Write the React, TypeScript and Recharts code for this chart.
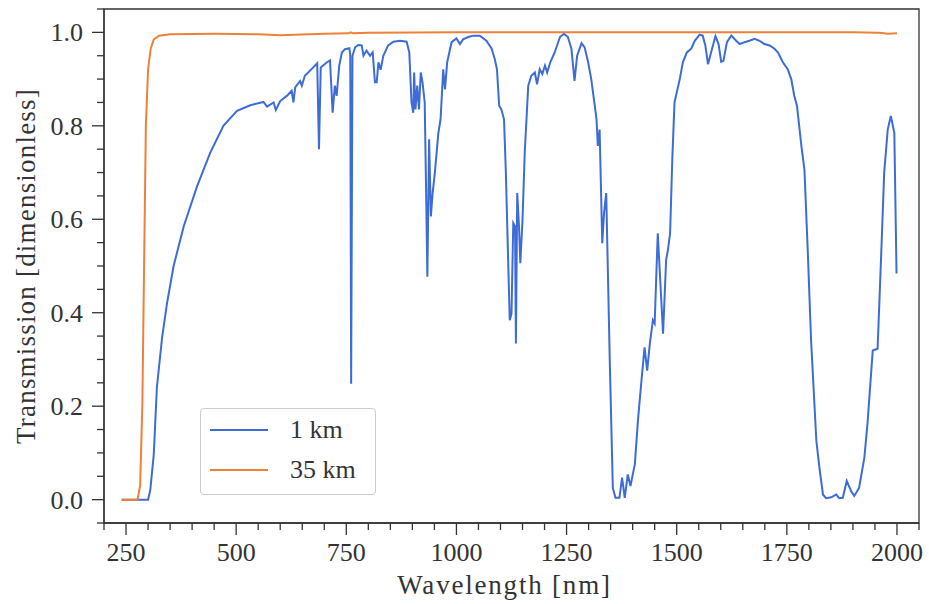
import React from 'react';
import { LineChart, Line, XAxis, YAxis, Legend, ReferenceArea } from 'recharts';

// wavelength [nm] / transmission
const WL_1KM = [
  240, 300, 305, 313, 320, 332, 343, 358, 381, 411, 441, 471, 502, 532, 562, 570, 585, 590, 600, 615,
  626, 630, 634, 645, 649, 656, 675, 684, 688, 692, 706, 713, 719, 724, 728, 734, 740, 747, 757, 759,
  761, 764, 770, 777, 785, 789, 796, 804, 810, 815, 819, 823, 828, 834, 845, 857, 872, 887, 893, 898,
  902, 904, 907, 911, 915, 919, 923, 928, 931, 934, 938, 942, 946, 951, 959, 964, 970, 974, 979, 989,
  1000, 1008, 1015, 1027, 1038, 1053, 1068, 1080, 1087, 1092, 1097, 1102, 1108, 1112, 1117, 1121, 1125, 1129, 1133, 1135,
  1138, 1142, 1145, 1150, 1155, 1163, 1170, 1178, 1183, 1189, 1195, 1201, 1206, 1213, 1223, 1235, 1244, 1253, 1261, 1268,
  1274, 1284, 1291, 1299, 1306, 1314, 1318, 1321, 1325, 1331, 1335, 1340, 1348, 1355, 1361, 1370, 1376, 1382, 1389, 1395,
  1405, 1412, 1420, 1427, 1433, 1439, 1446, 1450, 1457, 1469, 1476, 1480, 1485, 1490, 1495, 1500, 1507, 1514, 1523, 1533,
  1541, 1552, 1559, 1565, 1571, 1578, 1588, 1595, 1601, 1606, 1614, 1624, 1635, 1643, 1654, 1665, 1677, 1688, 1699, 1711,
  1722, 1730, 1741, 1752, 1760, 1767, 1773, 1783, 1790, 1798, 1805, 1817, 1824, 1832, 1839, 1851, 1862, 1869, 1877, 1886,
  1896, 1903, 1914, 1926, 1933, 1945, 1956, 1964, 1971, 1979, 1986, 1994, 1999,
];
const T_1KM = [
  0, 0, 0.02, 0.097, 0.24, 0.348, 0.42, 0.5, 0.585, 0.67, 0.742, 0.8, 0.832, 0.844, 0.851, 0.841, 0.85, 0.834, 0.853, 0.864,
  0.875, 0.85, 0.882, 0.896, 0.886, 0.907, 0.925, 0.934, 0.75, 0.925, 0.936, 0.94, 0.828, 0.886, 0.864, 0.929, 0.957, 0.964, 0.966, 0.95,
  0.248, 0.95, 0.968, 0.973, 0.972, 0.95, 0.961, 0.95, 0.957, 0.893, 0.893, 0.936, 0.92, 0.95, 0.972, 0.98, 0.982, 0.98, 0.957, 0.85,
  0.828, 0.914, 0.835, 0.886, 0.835, 0.914, 0.893, 0.85, 0.67, 0.477, 0.771, 0.606, 0.656, 0.7, 0.785, 0.814, 0.921, 0.878, 0.936, 0.979,
  0.987, 0.975, 0.985, 0.99, 0.993, 0.993, 0.982, 0.965, 0.943, 0.921, 0.843, 0.835, 0.814, 0.706, 0.527, 0.384, 0.398, 0.592, 0.585, 0.334,
  0.656, 0.585, 0.506, 0.599, 0.742, 0.886, 0.907, 0.914, 0.889, 0.921, 0.911, 0.929, 0.914, 0.936, 0.957, 0.99, 0.997, 0.99, 0.965, 0.896,
  0.95, 0.977, 0.968, 0.936, 0.9, 0.843, 0.814, 0.757, 0.792, 0.549, 0.613, 0.656, 0.3, 0.025, 0.004, 0.004, 0.047, 0.004, 0.054, 0.029,
  0.076, 0.169, 0.255, 0.326, 0.276, 0.334, 0.384, 0.377, 0.57, 0.355, 0.513, 0.534, 0.57, 0.728, 0.85, 0.871, 0.9, 0.936, 0.957, 0.965,
  0.982, 0.995, 0.993, 0.972, 0.932, 0.957, 0.992, 0.975, 0.937, 0.939, 0.979, 0.993, 0.982, 0.975, 0.979, 0.982, 0.986, 0.982, 0.975, 0.972,
  0.965, 0.957, 0.936, 0.921, 0.9, 0.864, 0.843, 0.757, 0.706, 0.52, 0.341, 0.126, 0.068, 0.011, 0.003, 0.005, 0.011, 0.003, 0.004, 0.04,
  0.018, 0.008, 0.025, 0.09, 0.162, 0.319, 0.323, 0.52, 0.7, 0.792, 0.821, 0.785, 0.484,
];

const WL_35KM = [240, 276, 282, 287, 291, 295, 300, 306, 313, 325, 350, 450, 550, 600, 700, 755, 760, 765, 800, 1000, 1500, 1900, 1960, 1980, 2000];
const T_35KM = [0, 0, 0.03, 0.2, 0.5, 0.8, 0.92, 0.965, 0.985, 0.993, 0.996, 0.997, 0.996, 0.994, 0.997, 0.998, 1.0, 0.998, 0.999, 1.0, 1.0, 1.0, 0.999, 0.997, 0.998];

const X_TICKS = [250, 500, 750, 1000, 1250, 1500, 1750, 2000];
const Y_TICKS = [0, 0.2, 0.4, 0.6, 0.8, 1.0];
const Y_LABELS = ['0.0', '0.2', '0.4', '0.6', '0.8', '1.0'];
const X_DOMAIN = [200, 2050];
const Y_DOMAIN = [-0.05, 1.05];

// minor ticks every 50 nm / 0.05
const X_ALL = Array.from({ length: 38 }, (_, i) => 200 + i * 50);
const Y_ALL = Array.from({ length: 23 }, (_, i) => Math.round((-0.05 + i * 0.05) * 100) / 100);

const FONT = '"Liberation Serif", "Times New Roman", serif';
const INK = '#333333';
const BLUE = '#3d6cd6';
const ORANGE = '#ed8139';

const data1 = WL_1KM.map((x, i) => ({ x, y: T_1KM[i] }));
const data35 = WL_35KM.map((x, i) => ({ x, y: T_35KM[i] }));

const isMajor = (list: number[], v: number) => list.some((t) => Math.abs(t - v) < 1e-6);

const XTick = (props: any) => {
  const { x, y, payload } = props;
  const major = isMajor(X_TICKS, payload.value);
  return (
    <g>
      <line x1={x} x2={x} y1={y} y2={y + (major ? 12 : 7)} stroke={INK} strokeWidth={1.3} />
      {major && (
        <text x={x} y={y + 38} textAnchor="middle" fontFamily={FONT} fontSize={26} fill={INK}>
          {payload.value}
        </text>
      )}
    </g>
  );
};

const YTick = (props: any) => {
  const { x, y, payload } = props;
  const idx = Y_TICKS.findIndex((t) => Math.abs(t - payload.value) < 1e-6);
  const major = idx >= 0;
  return (
    <g>
      <line x1={x} x2={x - (major ? 12 : 7)} y1={y} y2={y} stroke={INK} strokeWidth={1.3} />
      {major && (
        <text x={x - 21} y={y + 9} textAnchor="end" fontFamily={FONT} fontSize={26} fill={INK}>
          {Y_LABELS[idx]}
        </text>
      )}
    </g>
  );
};

const renderLegend = (props: any) => {
  const items = props.payload || [];
  return (
    <div
      style={{
        width: 176,
        height: 87,
        boxSizing: 'border-box',
        border: '1px solid #cccccc',
        borderRadius: 4,
        background: 'rgba(255,255,255,0.85)',
        paddingTop: 1,
        fontFamily: FONT,
        fontSize: 26,
        color: INK,
      }}
    >
      {items.map((entry: any) => (
        <div key={entry.value} style={{ display: 'flex', alignItems: 'center', height: 40 }}>
          <svg width={80} height={6} style={{ marginLeft: 9 }}>
            <line x1={0} x2={58} y1={3} y2={3} stroke={entry.color} strokeWidth={2.2} />
          </svg>
          <span>{entry.value}</span>
        </div>
      ))}
    </div>
  );
};

export default function App() {
  return (
    <div style={{ position: 'absolute', left: 0, top: 0, background: '#fff' }}>
      <LineChart width={929} height={604} margin={{ top: 9, right: 10, bottom: 0, left: 0 }}>
        <XAxis
          dataKey="x"
          type="number"
          domain={X_DOMAIN}
          ticks={X_ALL}
          interval={0}
          allowDataOverflow
          height={81}
          tickLine={false}
          tickSize={0}
          tickMargin={0}
          tick={<XTick />}
          axisLine={{ stroke: INK, strokeWidth: 1.3 }}
          label={{
            content: (p: any) => {
              const vb = p.viewBox || { x: 104, y: 523, width: 815, height: 81 };
              return (
                <text
                  x={vb.x + vb.width / 2 - 7}
                  y={vb.y + vb.height - 10}
                  textAnchor="middle"
                  fontFamily={FONT}
                  fontSize={27}
                  letterSpacing={1.8}
                  fill={INK}
                >
                  Wavelength [nm]
                </text>
              );
            },
          }}
        />
        <YAxis
          type="number"
          domain={Y_DOMAIN}
          ticks={Y_ALL}
          interval={0}
          allowDataOverflow
          width={104}
          tickLine={false}
          tickSize={0}
          tickMargin={0}
          tick={<YTick />}
          axisLine={{ stroke: INK, strokeWidth: 1.3 }}
          label={{
            content: (p: any) => {
              const vb = p.viewBox || { x: 0, y: 9, width: 104, height: 514 };
              const cx = vb.x + 26;
              const cy = vb.y + vb.height / 2;
              return (
                <text
                  x={cx}
                  y={cy}
                  transform={`rotate(-90, ${cx}, ${cy})`}
                  textAnchor="middle"
                  dominantBaseline="central"
                  fontFamily={FONT}
                  fontSize={27}
                  letterSpacing={1.2}
                  fill={INK}
                >
                  Transmission [dimensionless]
                </text>
              );
            },
          }}
        />
        <Line
          data={data1}
          dataKey="y"
          name="1 km"
          type="linear"
          stroke={BLUE}
          strokeWidth={2}
          dot={false}
          activeDot={false}
          isAnimationActive={false}
        />
        <Line
          data={data35}
          dataKey="y"
          name="35 km"
          type="linear"
          stroke={ORANGE}
          strokeWidth={2}
          dot={false}
          activeDot={false}
          isAnimationActive={false}
        />
        <ReferenceArea
          x1={X_DOMAIN[0]}
          x2={X_DOMAIN[1]}
          y1={Y_DOMAIN[0]}
          y2={Y_DOMAIN[1]}
          fill="none"
          stroke={INK}
          strokeWidth={1.3}
        />
        <Legend
          layout="vertical"
          align="center"
          verticalAlign="middle"
          content={renderLegend}
          wrapperStyle={{ left: 200, top: 408, width: 176 }}
        />
      </LineChart>
    </div>
  );
}
